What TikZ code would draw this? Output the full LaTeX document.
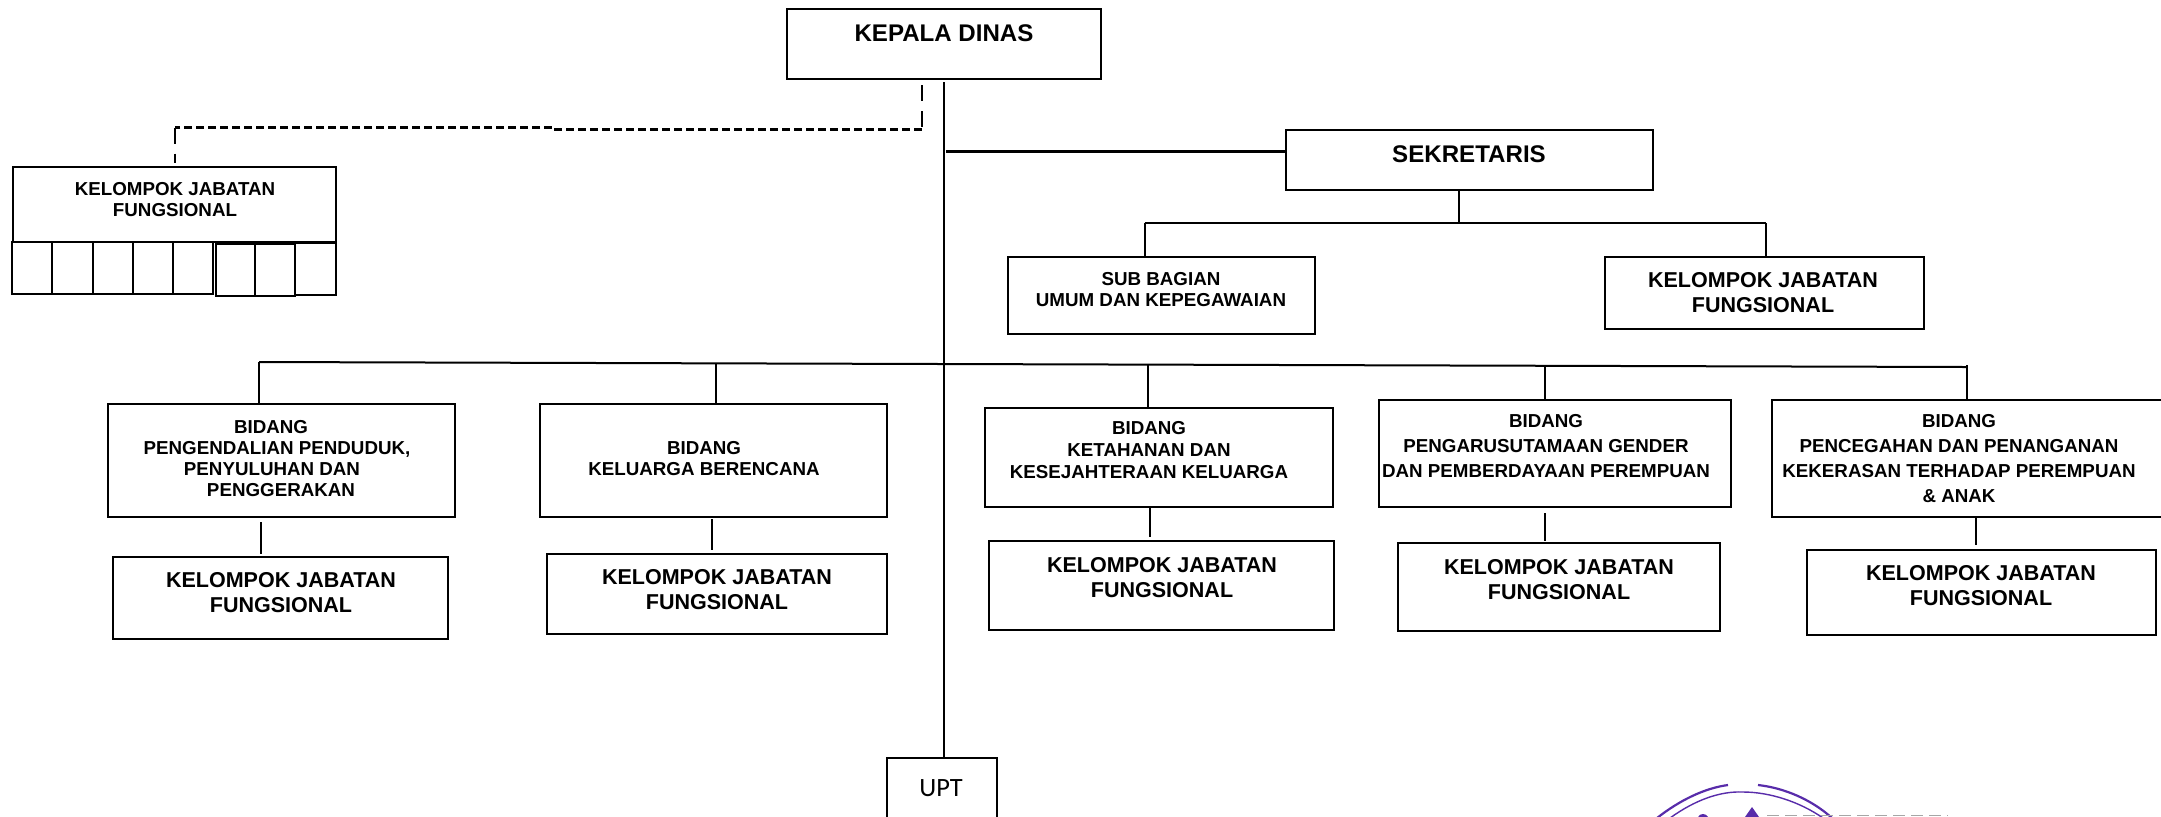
\documentclass[tikz,border=0pt]{standalone}
\usepackage{fontspec}
\setmainfont{Liberation Sans}
\newfontfamily\uptfont{Carlito}
\usetikzlibrary{fit}
\newcommand{\mkbox}[5]{\node[bx,fit={(#2,#3)(#4,#5)}] (#1) {};}
\newcommand{\shl}[1]{\hspace*{#1pt}}
\tikzset{
  bx/.style={draw=black,line width=1pt,inner sep=0pt,outer sep=0pt,minimum size=0pt},
  cell/.style={draw=black,line width=1pt,inner sep=0pt,outer sep=0pt,minimum size=0pt},
  conn/.style={draw=black,line width=1pt},
  dashc/.style={draw=black,line width=1.1pt,dash pattern=on 4pt off 2pt},
  dashv/.style={draw=black,line width=1pt,dash pattern=on 8pt off 5pt},
  lblS/.style={align=center,inner sep=0pt,font=\bfseries\fontsize{9.38}{10.5}\selectfont},
  lblB/.style={align=center,inner sep=0pt,font=\bfseries\fontsize{9.38}{12.5}\selectfont},
  lblK/.style={align=center,inner sep=0pt,font=\bfseries\fontsize{9.38}{11}\selectfont},
  lblL/.style={align=center,inner sep=0pt,font=\bfseries\fontsize{10.76}{12.5}\selectfont},
  lblH/.style={align=center,inner sep=0pt,font=\bfseries\fontsize{12.05}{14}\selectfont},
  stampc/.style={draw=stampviolet,line width=1.1pt}
}
\definecolor{stampviolet}{RGB}{88,44,170}
\begin{document}
\begin{tikzpicture}[x=0.5pt,y=-0.5pt]
\clip (0,0) rectangle (2161,816);
\fill[white] (0,0) rectangle (2161,816);
% top boxes
\mkbox{kd}{787}{9}{1101}{79}
\node[lblH] (kdt) at (944,33.5) {KEPALA DINAS};
\mkbox{sek}{1285.5}{129.5}{1652.5}{190}
\node[lblH] (sekt) at (1469,154.5) {SEKRETARIS};
\mkbox{sub}{1007.5}{256.5}{1315}{334}
\node[lblS] (subt) at (1161,289.5) {SUB BAGIAN\\UMUM DAN KEPEGAWAIAN};
\mkbox{kjr}{1604.5}{256.5}{1924}{329}
\node[lblL] (kjrt) at (1763,293) {KELOMPOK JABATAN\\FUNGSIONAL};
% left functional group
\mkbox{kjl}{13}{167}{336}{242}
\node[lblS] (kjlt) at (175,200) {KELOMPOK JABATAN\\FUNGSIONAL};
\node[cell,fit={(11.5,242)(52,294)}] (c1) {};
\node[cell,fit={(52,242)(92.5,294)}] (c2) {};
\node[cell,fit={(92.5,242)(133,294)}] (c3) {};
\node[cell,fit={(133,242)(173,294)}] (c4) {};
\node[cell,fit={(173,242)(213,294)}] (c5) {};
\node[cell,fit={(215.5,244)(255,295.5)}] (c6) {};
\node[cell,fit={(255,244)(295,295.5)}] (c7) {};
\node[cell,fit={(295,243)(336,294.5)}] (c8) {};
% bidang row
\mkbox{b1}{107.5}{404}{455}{517}
\node[lblS] (b1t) at (272,458.5) {\shl{-1}BIDANG\\\shl{5}PENGENDALIAN PENDUDUK,\\\shl{0}PENYULUHAN DAN\\\shl{9}PENGGERAKAN};
\mkbox{b2}{539.5}{404}{887}{517}
\node[lblS] (b2t) at (704,458.5) {BIDANG\\KELUARGA BERENCANA};
\mkbox{b3}{985}{408}{1333}{507}
\node[lblK] (b3t) at (1149,450.5) {BIDANG\\KETAHANAN DAN\\KESEJAHTERAAN KELUARGA};
\mkbox{b4}{1379}{400}{1731}{507}
\node[lblB] (b4t) at (1546,446.5) {BIDANG\\PENGARUSUTAMAAN GENDER\\DAN PEMBERDAYAAN PEREMPUAN};
\mkbox{b5}{1772}{400}{2175}{517}
\node[lblB] (b5t) at (1959,459) {BIDANG\\PENCEGAHAN DAN PENANGANAN\\KEKERASAN TERHADAP PEREMPUAN\\\& ANAK};
% functional groups under the bidang
\mkbox{k1}{113}{557}{448}{639}
\node[lblL] (k1t) at (281,592.5) {KELOMPOK JABATAN\\FUNGSIONAL};
\mkbox{k2}{547}{554}{887}{634}
\node[lblL] (k2t) at (717,589.5) {KELOMPOK JABATAN\\FUNGSIONAL};
\mkbox{k3}{988.5}{541}{1334}{630}
\node[lblL] (k3t) at (1162,577.5) {KELOMPOK JABATAN\\FUNGSIONAL};
\mkbox{k4}{1397.5}{543}{1720}{630.5}
\node[lblL] (k4t) at (1559,579.5) {KELOMPOK JABATAN\\FUNGSIONAL};
\mkbox{k5}{1806.5}{550}{2156}{634.5}
\node[lblL] (k5t) at (1981,585.5) {KELOMPOK JABATAN\\FUNGSIONAL};
% UPT
\mkbox{upt}{886.5}{757.5}{996.5}{840}
\node[inner sep=0pt,font=\uptfont\fontsize{13.2}{15}\selectfont] (uptt) at (941,788) {UPT};
% free ends and corners
\coordinate (trunkTop) at (943.5,82);
\coordinate (busL) at (259,362);
\coordinate (busR) at (1967,367);
\coordinate (secTap) at (1458.5,223);
\coordinate (secL) at (1144.5,223);
\coordinate (secR) at (1766,223);
% connectors
\draw[conn] (trunkTop) -- (upt.north -| trunkTop);
\draw[conn,line width=1.2pt] (946,151.5) -- (sek.west |- 946,151.5);
\draw[conn] (sek.south -| secTap) -- (secTap);
\draw[conn] (secL) -- (secR);
\draw[conn] (secL) -- (sub.north -| secL);
\draw[conn] (secR) -- (kjr.north -| secR);
\draw[conn] (busL) -- (busR);
\draw[conn] (busL) -- (b1.north -| busL);
\draw[conn] (715.5,363.5) -- (b2.north -| 715.5,0);
\draw[conn] (1148,365) -- (b3.north -| 1148,0);
\draw[conn] (1545,366) -- (b4.north -| 1545,0);
\draw[conn] (1967,365) -- (1967,401);
\draw[conn] (260.5,522) -- (260.5,554);
\draw[conn] (711.5,519) -- (711.5,550);
\draw[conn] (1149.5,508) -- (1149.5,537);
\draw[conn] (1545,513) -- (1545,541);
\draw[conn] (1976,517) -- (1976,545);
% dashed link
\coordinate (dA) at (921.5,85);
\coordinate (dB) at (921.5,129.5);
\coordinate (dC) at (552,129.5);
\coordinate (dD) at (552,127.5);
\coordinate (dE) at (175,127.5);
\coordinate (dF) at (175,163);
\draw[dashv] (dA) -- (dB);
\draw[dashc] (dB) -- (dC);
\draw[dashc] (dD) -- (dE);
\draw[dashv] (dE) -- (dF);
% stamp fragment
\draw[stampc] (1657,818) .. controls (1680,800) and (1705,788) .. (1728,785);
\draw[stampc] (1758,785) .. controls (1785,788) and (1812,800) .. (1832,818);
\draw[stampc,line width=.7pt] (1670,818) .. controls (1695,800) and (1720,791) .. (1743,792) .. controls (1770,792) and (1800,802) .. (1823,818);
\fill[stampviolet] (1752,807) -- (1745,817) -- (1759,817) -- cycle;
\fill[stampviolet] (1698,817) .. controls (1700,813) and (1706,813) .. (1708,817) -- cycle;
\draw[gray!70,line width=.6pt,dash pattern=on 6pt off 3pt] (1767,815.6) -- (1948,815.6);
\end{tikzpicture}
\end{document}
